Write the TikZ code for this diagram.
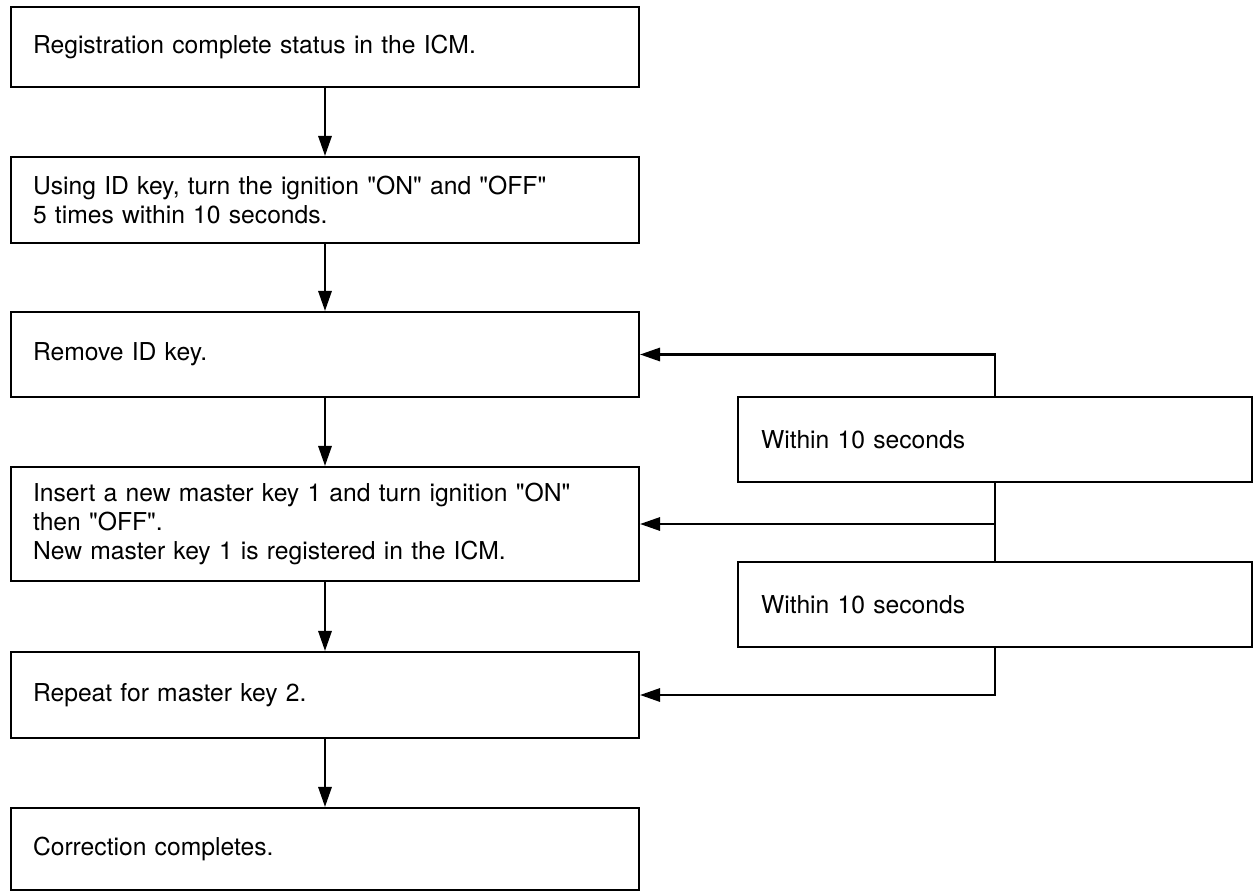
\documentclass[tikz,border=0pt]{standalone}
\usepackage{fontspec}
\setmainfont{TeX Gyre Heros}
\usetikzlibrary{arrows.meta}
\newcommand{\dq}{\textquotedbl}
\begin{document}
\begin{tikzpicture}[x=0.75pt,y=-0.75pt,
  mainbox/.style={draw, line width=1.6pt, text width=438pt, inner xsep=16.5pt, inner ysep=0pt, align=left, font=\fontsize{18.5}{21.5}\selectfont},
  sidebox/.style={draw, line width=1.6pt, text width=351pt, inner xsep=17.25pt, inner ysep=0pt, align=left, minimum height=63.75pt, font=\fontsize{18.5}{21.5}\selectfont},
  conn/.style={line width=1.6pt, -{Triangle[length=15pt,width=10pt]}},
  plain/.style={line width=1.6pt}]
\useasboundingbox (0,0) rectangle (1255,892);
\node[mainbox, minimum height=60pt] (b1) at (325,47) {Registration complete status in the ICM.};
\node[mainbox, minimum height=64.5pt] (b2) at (325,200) {Using ID key, turn the ignition \dq ON\dq\ and \dq OFF\dq\\5 times within 10 seconds.};
\node[mainbox, minimum height=63.75pt] (b3) at (325,354.5) {Remove ID key.};
\node[mainbox, minimum height=85.5pt] (b4) at (325,524) {Insert a new master key 1 and turn ignition \dq ON\dq\\then \dq OFF\dq.\\New master key 1 is registered in the ICM.};
\node[mainbox, minimum height=64.5pt] (b5) at (325,695) {Repeat for master key 2.};
\node[mainbox, minimum height=61.5pt] (b6) at (325,849) {Correction completes.};
\node[sidebox] (s1) at (995,439.5) {Within 10 seconds};
\node[sidebox] (s2) at (995,604.5) {Within 10 seconds};
\draw[conn] (b1) -- (b2);
\draw[conn] (b2) -- (b3);
\draw[conn] (b3) -- (b4);
\draw[conn] (b4) -- (b5);
\draw[conn] (b5) -- (b6);
\draw[conn] (s1.north) |- (b3.east);
\draw[plain] (s1.south) -- (s2.north);
\draw[conn] (s1.south |- b4.east) -- (b4.east);
\draw[conn] (s2.south) |- (b5.east);
\end{tikzpicture}
\end{document}
